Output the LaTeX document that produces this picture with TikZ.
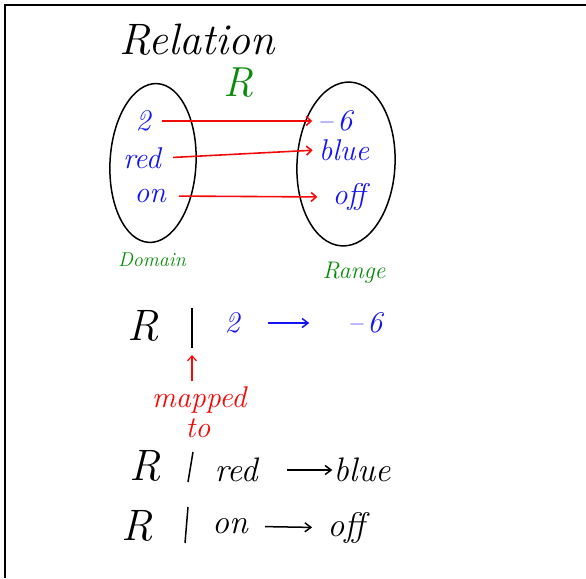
\documentclass[tikz,border=0pt]{standalone}
\usepackage{fontspec}
\usepackage{tikz}
\usetikzlibrary{
  shapes.geometric,
  arrows.meta,
  positioning
}
\definecolor{inkcolor}{RGB}{0, 0, 0}
\definecolor{itemcolor}{RGB}{20, 20, 245}
\definecolor{mapcolor}{RGB}{245, 10, 10}
\definecolor{namecolor}{RGB}{10, 140, 10}
\tikzset{
handtext/.style={
  inner sep=1pt,
  text=inkcolor
},
titletext/.style={
  handtext,
  inner sep=0pt,
  font=\fontsize{44}{48}\selectfont\itshape
},
nametext/.style={
  handtext,
  inner sep=0pt,
  text=namecolor,
  font=\fontsize{42}{46}\selectfont\itshape
},
itemtext/.style={
  handtext,
  text=itemcolor,
  font=\fontsize{30}{34}\selectfont\itshape
},
setlabel/.style={
  handtext,
  text=namecolor,
  font=\fontsize{20}{24}\selectfont\itshape
},
rowname/.style={
  handtext,
  font=\fontsize{44}{48}\selectfont\itshape
},
rowtext/.style={
  handtext,
  font=\fontsize{34}{38}\selectfont\itshape
},
notetext/.style={
  handtext,
  text=mapcolor,
  font=\fontsize{30}{32}\selectfont\itshape
},
setshape/.style={
  draw=inkcolor,
  ellipse,
  line width=1.5pt
},
barline/.style={
  draw=inkcolor,
  line width=1.5pt
},
maparrow/.style={
  -{Straight Barb[length=5pt,width=9pt]},
  line width=1.6pt,
  draw=mapcolor
},
rowarrow/.style={
  -{Straight Barb[length=6pt,width=9pt]},
  line width=1.5pt,
  draw=inkcolor
}
}
\begin{document}
\begin{tikzpicture}[x=1pt,y=-1pt]
  \useasboundingbox (0,0) rectangle (586,578);
  \draw[line width=2.5pt] (5,578) -- (5,5) -- (586,5);

  % title and relation name
  \node[titletext] (title) at (197,40) {Relation};
  \node[nametext] (relname) at (238,83) {R};

  % the two sets
  \node[setshape, minimum width=86pt, minimum height=159pt, rotate=-3] (domainset) at (153,163) {};
  \node[setshape, minimum width=98pt, minimum height=164pt, rotate=-3] (rangeset) at (346,164) {};

  \node[itemtext] (two) at (143,121) {2};
  \node[itemtext] (red) at (142,158) {red};
  \node[itemtext] (on) at (150,196) {on};
  \node[itemtext] (minussix) at (335,121) {\textendash\,6};
  \node[itemtext] (blue) at (344,150) {blue};
  \node[itemtext] (off) at (349,197) {off};

  \draw[maparrow, shorten <=10pt, shorten >=4pt] (two.east) -- (minussix.west);
  \draw[maparrow, shorten <=11pt, shorten >=5pt] (red.east) -- (blue.west);
  \draw[maparrow, shorten <=12pt, shorten >=14pt] (on.east) -- (off.west);

  \node[setlabel] (domainlabel) at (152,260) {Domain};
  \node[setlabel, font=\fontsize{24}{28}\selectfont\itshape] (rangelabel) at (354,273) {Range};

  % R | 2 -> -6
  \node[rowname] (rowonename) at (143,326) {R};
  \coordinate (baronetop) at (192,308);
  \coordinate (baronefoot) at (192,348);
  \draw[barline] (baronetop) -- (baronefoot);
  \node[itemtext] (rowonefrom) at (232,323) {2};
  \node[itemtext] (rowoneto) at (365,323) {\textendash\,6};
  \draw[rowarrow, draw=itemcolor, shorten <=27pt, shorten >=37pt] (rowonefrom) -- (rowoneto);

  % note under the bar
  \node[notetext] (mapped) at (199,400) {mapped};
  \node[notetext] (mappedto) at (198,428) {to};
  \draw[maparrow, line width=1.2pt, shorten <=4pt, shorten >=7pt] (mapped.north -| baronefoot) -- (baronefoot);

  % R | red -> blue
  \node[rowname] (rowtwoname) at (145,466) {R};
  \coordinate (bartwotop) at (193,452);
  \coordinate (bartwofoot) at (188,482);
  \draw[barline] (bartwotop) -- (bartwofoot);
  \node[rowtext] (rowtwofrom) at (236,470) {red};
  \node[rowtext] (rowtwoto) at (362,470) {blue};
  \draw[rowarrow, shorten <=28pt, shorten >=0pt] (rowtwofrom) -- (rowtwoto);

  % R | on -> off
  \node[rowname] (rowthreename) at (137,526) {R};
  \coordinate (barthreetop) at (188,507);
  \coordinate (barthreefoot) at (185,543);
  \draw[barline] (barthreetop) -- (barthreefoot);
  \node[rowtext] (rowthreefrom) at (230,526) {on};
  \node[rowtext] (rowthreeto) at (346,528) {off};
  \draw[rowarrow, shorten <=16pt, shorten >=14pt] (rowthreefrom) -- (rowthreeto);
\end{tikzpicture}
\end{document}
